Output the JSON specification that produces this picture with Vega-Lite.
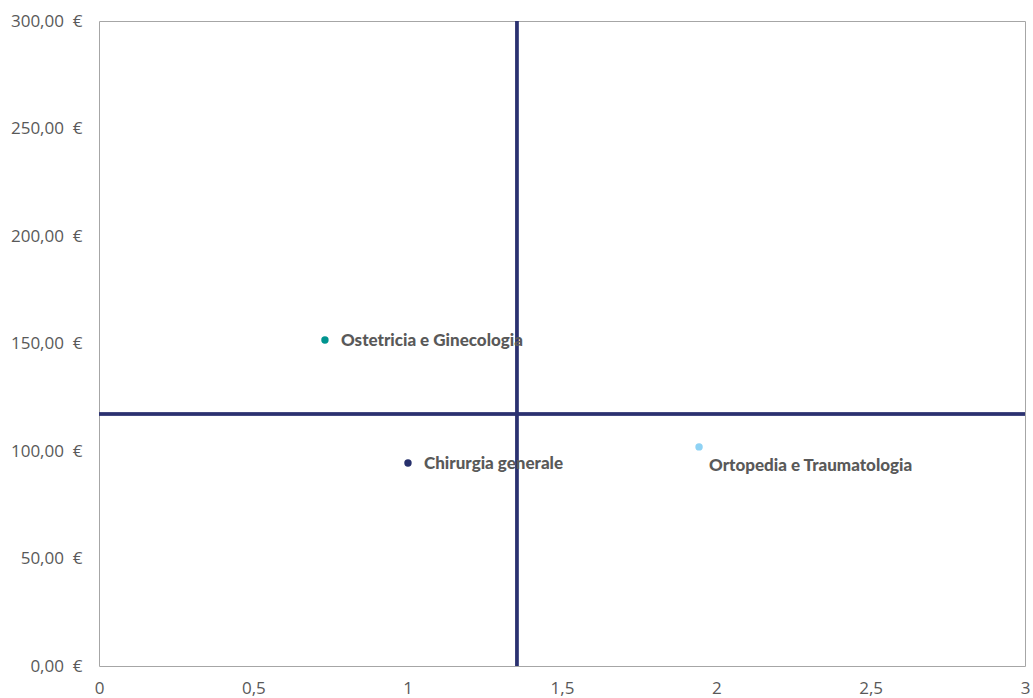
{
  "$schema": "https://vega.github.io/schema/vega-lite/v6.json",
  "width": 926,
  "height": 645,
  "autosize": {"type": "none"},
  "padding": {"left": 99, "top": 21, "right": 7, "bottom": 32},
  "background": "white",
  "config": {
    "view": {"stroke": "#a6a6a6", "strokeWidth": 1},
    "axis": {"grid": false, "domain": false, "ticks": false, "labelFont": "Open Sans", "labelFontSize": 17, "labelColor": "#595959", "title": null}
  },
  "data": {"values": [
    {"name": "Ostetricia e Ginecologia", "x": 0.732, "y": 151.6},
    {"name": "Chirurgia generale", "x": 1.001, "y": 94.4},
    {"name": "Ortopedia e Traumatologia", "x": 1.944, "y": 101.9}
  ]},
  "encoding": {
    "x": {"field": "x", "type": "quantitative", "scale": {"domain": [0, 3], "nice": false, "zero": true},
      "axis": {"values": [0, 0.5, 1, 1.5, 2, 2.5, 3], "labelPadding": 14, "labelExpr": "replace(format(datum.value, ''), '.', ',')", "labelFlush": false}},
    "y": {"field": "y", "type": "quantitative", "scale": {"domain": [0, 300], "nice": false},
      "axis": {"values": [0, 50, 100, 150, 200, 250, 300], "labelPadding": 17, "labelExpr": "replace(format(datum.value, '.2f'), '.', ',') + ' \u00a0€'", "labelFlush": false}}
  },
  "layer": [
    {
      "mark": {"type": "rule", "color": "#2b3170", "strokeWidth": 3},
      "encoding": {"x": {"datum": 1.354, "type": "quantitative"}, "y": null}
    },
    {
      "mark": {"type": "rule", "color": "#2b3170", "strokeWidth": 3},
      "encoding": {"y": {"datum": 117.2, "type": "quantitative"}, "x": null}
    },
    {
      "mark": {"type": "point", "filled": true, "opacity": 1, "size": 55},
      "encoding": {
        "color": {"field": "name", "type": "nominal", "legend": null,
          "scale": {"domain": ["Ostetricia e Ginecologia", "Chirurgia generale", "Ortopedia e Traumatologia"], "range": ["#00948f", "#27306c", "#8ed2f4"]}}
      }
    },
    {
      "transform": [{"filter": "datum.name !== 'Ortopedia e Traumatologia'"}],
      "mark": {"type": "text", "align": "left", "baseline": "middle", "dx": 16, "dy": 1, "font": "Lato", "fontWeight": 900, "fontSize": 17, "color": "#595959"},
      "encoding": {"text": {"field": "name"}}
    },
    {
      "transform": [{"filter": "datum.name === 'Ortopedia e Traumatologia'"}],
      "mark": {"type": "text", "align": "left", "baseline": "middle", "dx": 10, "dy": 19, "font": "Lato", "fontWeight": 900, "fontSize": 17, "color": "#595959"},
      "encoding": {"text": {"field": "name"}}
    }
  ]
}
